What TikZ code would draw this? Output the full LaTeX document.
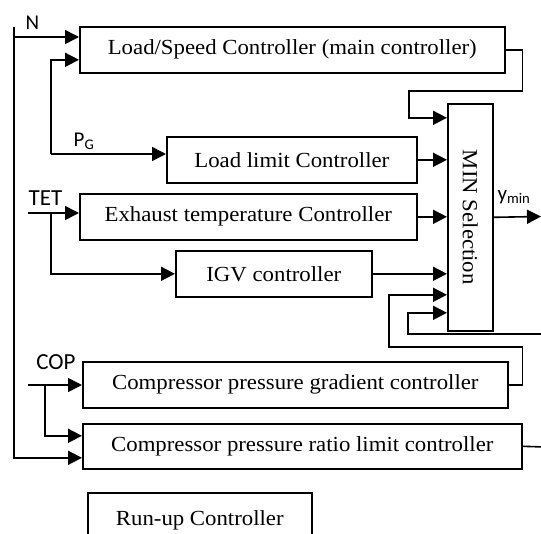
\documentclass[tikz,border=0pt]{standalone}
\usepackage{fontspec}
\setmainfont{Liberation Serif}[FakeStretch=1.06]
\newfontfamily\lab{Carlito}
\usetikzlibrary{arrows.meta}
\begin{document}
\begin{tikzpicture}[x=1pt,y=-1pt,
  box/.style={draw, line width=1.6pt, anchor=north west, inner sep=0pt, font=\fontsize{21.5}{24}\selectfont},
  conn/.style={line width=1.6pt},
  arr/.style={conn, -{Triangle[length=14pt,width=14pt]}},
  lbl/.style={font=\lab\fontsize{23}{26}\selectfont, inner sep=0pt, anchor=base}]
\useasboundingbox (0,0) rectangle (541,533);
% boxes
\node[box, minimum width=425pt, minimum height=46pt] (ls) at (79,26) {Load/Speed Controller (main controller)};
\node[box, minimum width=250pt, minimum height=46pt] (ll) at (166,136) {Load limit Controller};
\node[box, minimum width=337pt, minimum height=46pt] (ex) at (79,193) {Exhaust temperature Controller};
\node[box, minimum width=196pt, minimum height=46pt] (ig) at (175,250) {IGV controller};
\node[box, minimum width=45pt, minimum height=227pt] (min) at (447,103) {};
\node[font=\fontsize{21.5}{24}\selectfont, rotate=-90, inner sep=0pt] (minlab) at (min.center) {MIN Selection};
\node[box, minimum width=425pt, minimum height=46pt] (gr) at (82,361) {Compressor pressure gradient controller};
\node[box, minimum width=439pt, minimum height=45pt] (ra) at (82,423) {Compressor pressure ratio limit controller};
\node[box, minimum width=224pt, minimum height=56pt] (ru) at (87,492) {Run-up Controller};
% labels
\node[lbl, font=\lab\fontsize{21}{24}\selectfont] (lN) at (32.5,29) {N};
\node[lbl, font=\lab\fontsize{21}{24}\selectfont] (lPG) at (84,146) {P\textsubscript{G}};
\node[lbl] (lTET) at (45.5,205) {TET};
\node[lbl] (lCOP) at (56,369) {COP};
\node[lbl, font=\lab\fontsize{21}{24}\selectfont] (lymin) at (514,200) {y\textsubscript{min}};
% coordinates
\coordinate (Ntop) at (14,27);
\coordinate (Nin) at (14,37);
\coordinate (PG) at (51,154);
\coordinate (j1) at (409,91);
\coordinate (TET) at (28,213);
\coordinate (tb) at (51,213);
\coordinate (COP) at (28,385);
\coordinate (cb) at (45,385);
\coordinate (g1) at (389,347);
\coordinate (fb) at (408,334);
\coordinate (edgeA) at (545,334);
\coordinate (edgeB) at (545,447);
\coordinate (edgeC) at (541,216.5);
% connectors
\draw[arr] (Nin) -- (Nin -| ls.west);
\draw[arr] (Ntop) |- ([yshift=-11.5pt]ra.west);
\draw[arr] (PG) |- ([yshift=-10pt]ls.west);
\draw[arr] (PG) -- (PG -| ll.west);
\draw[arr] (ls.east) -- ++(17,0) |- (j1) |- ([yshift=99.5pt]min.west);
\draw[arr] (ll.east) -- (ll.east -| min.west);
\draw[arr] (TET) -- (TET -| ex.west);
\draw[arr] (tb) |- (ig.west);
\draw[arr] (ex.east) -- (ex.east -| min.west);
\draw[arr] (ig.east) -- (ig.east -| min.west);
\draw[arr] (gr.east) -- ++(14,0) |- (g1) |- ([yshift=-77.5pt]min.west);
\draw[arr] (edgeA) -- (fb) |- ([yshift=-95.5pt]min.west);
\draw[conn] (ra.east) -- (edgeB);
\draw[arr] (min.east) -- (edgeC);
\draw[arr] (COP) -- (COP -| gr.west);
\draw[arr] (cb) |- ([yshift=10.5pt]ra.west);
\end{tikzpicture}
\end{document}
